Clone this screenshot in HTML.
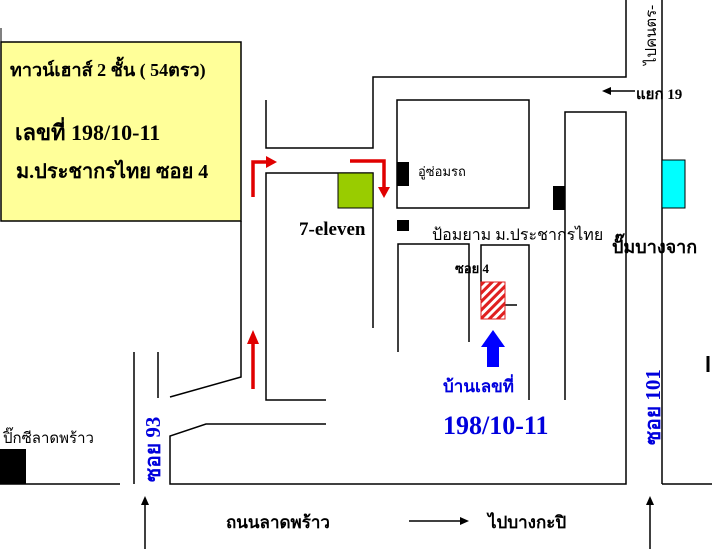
<!DOCTYPE html>
<html><head><meta charset="utf-8"><style>
html,body{margin:0;padding:0;background:#fff;}
svg{display:block;}
text{font-family:"Liberation Serif","DejaVu Serif",serif;}
</style></head><body>
<svg width="712" height="549" viewBox="0 0 712 549" xmlns="http://www.w3.org/2000/svg">
<defs>
<pattern id="h" width="6" height="6" patternUnits="userSpaceOnUse" patternTransform="rotate(45)">
<rect width="6" height="6" fill="#fff"/><rect width="3" height="6" fill="#e02020"/>
</pattern>
</defs>
<rect x="1" y="42" width="240" height="179" fill="#ffff99" stroke="#000" stroke-width="1.5"/>
<line x1="1" y1="28" x2="1" y2="42" stroke="#000"/>
<g fill="#000" font-weight="bold">
<text x="10" y="76" font-size="18">ทาวน์เฮาส์ 2 ชั้น ( 54ตรว)</text>
<text x="15" y="140" font-size="22">เลขที่ 198/10-11</text>
<text x="16" y="178" font-size="20">ม.ประชากรไทย ซอย 4</text>
</g>
<g stroke="#000" stroke-width="1.5" fill="none">
<polyline points="241,221 241,377 170,397"/>
<line x1="134" y1="352" x2="134" y2="484"/>
<line x1="158" y1="352" x2="158" y2="398"/>
<line x1="0" y1="484" x2="120" y2="484"/>
<polyline points="326,424 206,424 170,436 170,484 626,484 626,112 565,112 565,400"/>
<line x1="662" y1="484" x2="712" y2="484"/>
<line x1="662" y1="0" x2="662" y2="484"/>
<polyline points="266,100 266,148 373,148 373,77 626,77 626,0"/>
<polyline points="326,400 266,400 266,173 373,173 373,328"/>
<rect x="397" y="100" width="132" height="108"/>
<polyline points="398,352 398,244 469,244 469,342"/>
<polyline points="481,300 481,245 529,245 529,400"/>
<line x1="505" y1="305" x2="517" y2="305"/>
<line x1="708" y1="356" x2="708" y2="372" stroke-width="3"/>
<line x1="145" y1="549" x2="145" y2="502"/>
<line x1="650" y1="549" x2="650" y2="502"/>
<line x1="409" y1="521" x2="462" y2="521"/>
<line x1="610" y1="91" x2="635" y2="91"/>
</g>
<g fill="#000">
<polygon points="145,496 141,505 149,505"/>
<polygon points="650,496 646,505 654,505"/>
<polygon points="469,521 460,517 460,525"/>
<polygon points="602,91 611,87 611,95"/>
<rect x="397" y="162" width="12" height="24"/>
<rect x="397" y="220" width="12" height="11"/>
<rect x="553" y="186" width="12" height="24"/>
<rect x="0" y="449" width="26" height="35"/>
</g>
<rect x="338" y="173" width="35" height="35" fill="#99cc00" stroke="#000"/>
<rect x="662" y="160" width="23" height="48" fill="#00ffff" stroke="#000"/>
<rect x="481" y="282" width="24" height="37" fill="url(#h)" stroke="#e02020"/>
<polygon points="487,367 499,367 499,347 505,347 493,330 481,347 487,347" fill="#0000ff"/>
<g stroke="#e00000" stroke-width="3.5" fill="none">
<line x1="253" y1="389" x2="253" y2="342"/>
<polyline points="253,197 253,162 268,162"/>
<polyline points="350,161 384,161 384,188"/>
</g>
<g fill="#e00000">
<polygon points="253,330 247,344 259,344"/>
<polygon points="277,162 266,156 266,168"/>
<polygon points="384,198 378,187 390,187"/>
</g>
<g fill="#000">
<text x="299" y="235" font-size="19" font-weight="bold">7-eleven</text>
<text x="418" y="176" font-size="13">อู่ซ่อมรถ</text>
<text x="432" y="240" font-size="16">ป้อมยาม ม.ประชากรไทย</text>
<text x="455" y="273" font-size="13" font-weight="bold">ซอย 4</text>
<text x="612" y="253" font-size="18" font-weight="bold">ปั๊มบางจาก</text>
<text x="636" y="99" font-size="15" font-weight="bold">แยก 19</text>
<text transform="translate(656,65) rotate(-90)" font-size="15">ไปคนตร-</text>
<text x="3" y="443" font-size="15">ปิ๊กซีลาดพร้าว</text>
<text x="226" y="528" font-size="17" font-weight="bold">ถนนลาดพร้าว</text>
<text x="488" y="528" font-size="17" font-weight="bold">ไปบางกะปิ</text>
</g>
<g fill="#0000dd" font-weight="bold">
<text x="443" y="392" font-size="17">บ้านเลขที่</text>
<text x="443" y="434" font-size="26">198/10-11</text>
<text transform="translate(160,482) rotate(-90)" font-size="21">ซอย 93</text>
<text transform="translate(660,445) rotate(-90)" font-size="21">ซอย 101</text>
</g>
</svg>
</body></html>
